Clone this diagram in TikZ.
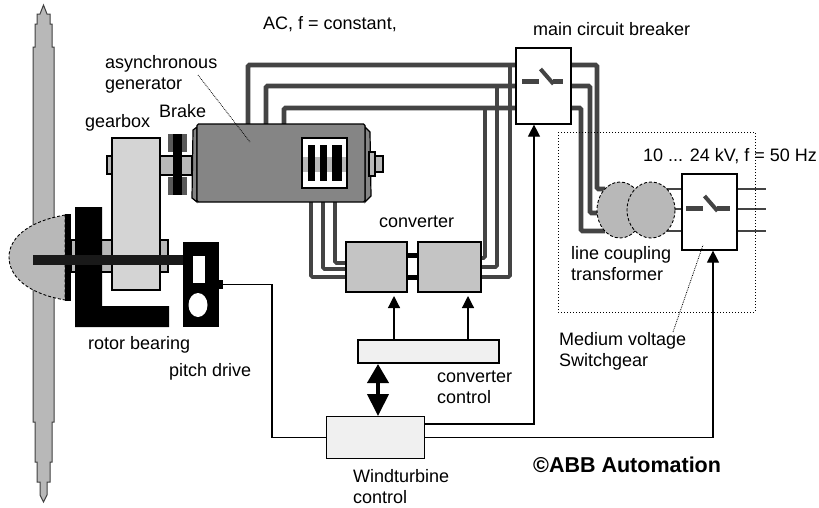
\documentclass[tikz,border=0pt]{standalone}
\usepackage{fontspec}
\setmainfont{Liberation Sans}
\usetikzlibrary{arrows.meta,backgrounds,shapes.geometric}
\definecolor{bladegray}{HTML}{B8B8B8}
\definecolor{boxgray}{HTML}{C4C4C4}
\definecolor{gengray}{HTML}{858585}
\definecolor{gearfill}{HTML}{D4D4D4}
\definecolor{ctrlfill}{HTML}{F0F0F0}
\definecolor{phasecol}{HTML}{444444}
\tikzset{lbl/.style={inner sep=0pt,align=left,font=\fontsize{18}{21}\selectfont},
  part/.style={draw=black,line width=1.2pt,inner sep=0pt},
  conv/.style={part,fill=boxgray,minimum width=61pt,minimum height=50pt},
  ctrl/.style={part,fill=ctrlfill},
  breaker/.style={part,fill=white,minimum width=55pt,minimum height=76pt},
  solid block/.style={fill=black,inner sep=0pt},
  phase/.style={draw=phasecol,line width=4.8pt,rounded corners=1.5pt},
  phase thin/.style={phase,line width=3.8pt},
  sig/.style={draw=black,line width=1.2pt},
  sigarr/.style={sig,-{Triangle[length=12pt,width=12pt]}},
  leader/.style={black,line width=0.8pt,densely dotted},
  coil/.style={draw=black,line width=0.9pt,densely dashed,fill=bladegray}}
\newcommand{\switchsym}[3]{%
  \fill[phasecol] (#1,#2) rectangle ++(17,-5.5);
  \draw[phasecol,line width=4pt] (#1+18.5,#2-15) -- ++(13,15);
  \fill[phasecol] (#1+31,#2) rectangle ++(#3,-5.5);}
\begin{document}
\begin{tikzpicture}[x=1pt,y=-1pt]
\useasboundingbox (0,0) rectangle (819,507);
% blade and hub
\draw[line width=1pt,fill=bladegray,draw=black!75] (43.5,5) -- (47,14) -- (50,14) -- (50,24) -- (52,24) -- (52,47) -- (54,47) -- (54,87) -- (54,422) -- (52,422) -- (52,462) -- (50,462) -- (50,482) -- (47,482) -- (47,495) -- (43.5,502) -- (40,495) -- (40,482) -- (37,482) -- (37,462) -- (35,462) -- (35,422) -- (33,422) -- (33,47) -- (35,47) -- (35,24) -- (37,24) -- (37,14) -- (40,14) -- cycle;
\draw[line width=0.9pt,densely dashed,fill=bladegray] (65,215) .. controls (25,222) and (9,240) .. (9,257) .. controls (9,275) and (25,293) .. (65,300) -- cycle;
\fill[black] (65,214) rectangle (71,301);
\node[part,fill=bladegray,minimum width=41pt,minimum height=32pt] (hubband) at (91.5,256) {};
\node[part,fill=bladegray,minimum width=8pt,minimum height=32pt] (rearband) at (164,256) {};
\node[part,fill=gearfill,minimum width=48pt,minimum height=152pt] (gearbox) at (136,214) {};
\node[part,fill=bladegray,minimum width=5pt,minimum height=18pt] (gearstub) at (109.5,165) {};
\fill[black] (75,207) -- (102,207) -- (102,306) -- (169,306) -- (169,327) -- (75,327) -- cycle;
\fill[black!90] (33,255) rectangle (192,265);
% pitch drive
\node[solid block,minimum width=36pt,minimum height=85pt] (pitch) at (201,284.5) {};
\fill[white] (193,256) rectangle (205,283);
\fill[white] (198,305) ellipse (9.5 and 12);
% brake and generator
\node[part,fill=bladegray,minimum width=32pt,minimum height=19pt] (brakeshaft) at (176,165.5) {};
\fill[black!65] (168,134) rectangle (187,152);
\fill[black!65] (168,177) rectangle (187,195);
\fill[black] (173,134) rectangle (182,195);
\draw[part,fill=gengray] (197,127) -- (193,130) -- (192,198) -- (197,202) -- cycle;
\draw[part,fill=gengray] (365,127) -- (370,132) -- (371,196) -- (365,202) -- cycle;
\node[part,fill=bladegray,minimum width=8pt,minimum height=16pt] (gennub) at (379,164) {};
\node[part,fill=bladegray,minimum width=6pt,minimum height=24pt] (genflange) at (372,164) {};
\node[part,fill=gengray,rounded corners=1.5pt,minimum width=168pt,minimum height=78pt] (gen) at (281,163) {};
\node[part,fill=white,minimum width=45pt,minimum height=50pt] (term) at (324.5,163) {};
\fill[bladegray] (303,157) rectangle (346,172);
\foreach \tx/\tw in {308/7,320/7,332/10}{\fill[black] (\tx,145) rectangle ++(\tw,36);}
% electrical parts
\node[conv] (convl) at (376.5,267) {};
\node[conv,minimum width=63pt] (convr) at (449.5,267) {};
\fill[black] (convl.east |- 0,253) rectangle (convr.west |- 0,258);
\fill[black] (convl.east |- 0,275) rectangle (convr.west |- 0,280);
\node[ctrl,minimum width=141pt,minimum height=23pt] (convctrl) at (428.5,351.5) {};
\node[ctrl,minimum width=98pt,minimum height=42pt] (wtc) at (375.5,437.5) {};
\node[breaker] (mcb) at (543.5,86) {};
\switchsym{522}{84}{10}
\node[breaker] (msg) at (709.5,212) {};
\switchsym{686}{211}{13}
\foreach \cname/\cx/\cy in {genA/248/124,genB/266/124,genC/284/124,termA/311/181,termB/323/181,termC/335/181,
  outA/605/189,outB/605/213,outC/605/231,lineA/766/189,lineB/766/209,lineC/766/231}
  {\coordinate (\cname) at (\cx,\cy);}
\begin{scope}[on background layer]
\draw[phase] (genA) |- (597,65) |- (outA);
\draw[phase] (genB) |- (590,86) |- (outB);
\draw[phase] (genC) |- (581,108) |- (outC);
\draw[phase thin] (510,65) |- (convr.east |- 0,277);
\draw[phase thin] (497,86) |- (convr.east |- 0,267);
\draw[phase thin] (485,108) |- (convr.east |- 0,258);
\draw[phase thin] (termA) |- (convl.west |- 0,277);
\draw[phase thin] (termB) |- (convl.west |- 0,269);
\draw[phase thin] (termC) |- (convl.west |- 0,263);
\end{scope}
\foreach \ly in {189,209,231}{\draw[phase,line width=2.8pt] (640,\ly) -- (msg.west |- 0,\ly);}
\draw[phase,line width=2.8pt] (msg.east |- lineA) -- (lineA);
\draw[phase,line width=2.8pt] (msg.east |- lineB) -- (lineB);
\draw[phase,line width=2.8pt] (msg.east |- lineC) -- (lineC);
\node[coil,ellipse,inner sep=0pt,minimum width=46pt,minimum height=56pt] (coill) at (620,210) {};
\node[coil,ellipse,inner sep=0pt,minimum width=48pt,minimum height=56pt] (coilr) at (651,210) {};
\draw[black,line width=1pt,dotted] (558,132) rectangle (755,312);
% control signals
\coordinate (convinl) at (394,296);
\coordinate (convinr) at (468,296);
\draw[sigarr] (convctrl.north -| convinl) -- (convinl);
\draw[sigarr] (convctrl.north -| convinr) -- (convinr);
\draw[black,line width=4pt,{Triangle[length=19pt,width=21pt]}-{Triangle[length=22pt,width=21pt]}] (378,364) -- (378,416);
\draw[sig,-{Rectangle[length=4pt,width=9pt]}] (wtc.west) -| (272,284.5) -- (pitch.east);
\draw[sigarr] (wtc.east |- 0,424) -| (mcb.south -| 534,0);
\draw[sigarr] (wtc.east) -| (msg.south -| 713,0);
% labels
\node[lbl,anchor=base west] (tAC) at (263,29) {AC, f = constant,};
\node[lbl,anchor=base west] (tmcb) at (533,35) {main circuit breaker};
\node[lbl,anchor=base west] (tgrid) at (643,161.5) {10 ... 24 kV, f = 50 Hz};
\node[lbl,anchor=north west] (tgen) at (105,55) {asynchronous\\generator};
\node[lbl,anchor=base west] (tbrake) at (159,117) {Brake};
\node[lbl,anchor=base west] (tgear) at (85,127) {gearbox};
\node[lbl,anchor=base west] (tconv) at (379,227) {converter};
\node[lbl,anchor=north west] (ttrans) at (571,246) {line coupling\\transformer};
\node[lbl,anchor=north west] (tmsg) at (559,332) {Medium voltage\\Switchgear};
\node[lbl,anchor=north west] (tcctrl) at (437,371) {converter\\control};
\node[lbl,anchor=base west] (tbear) at (88,349) {rotor bearing};
\node[lbl,anchor=base west] (tpitch) at (169,376) {pitch drive};
\node[lbl,anchor=north west] (twtc) at (353,469) {Windturbine\\control};
\node[lbl,anchor=base west,font=\fontsize{21.5}{24}\selectfont\bfseries] (tabb) at (533,472) {©ABB Automation};
\coordinate (gpoint) at (250,142);
\coordinate (sgpoint) at (703,245);
\draw[leader] (198,75) -- (gpoint);
\draw[leader] (673,332) -- (sgpoint);
\end{tikzpicture}
\end{document}
